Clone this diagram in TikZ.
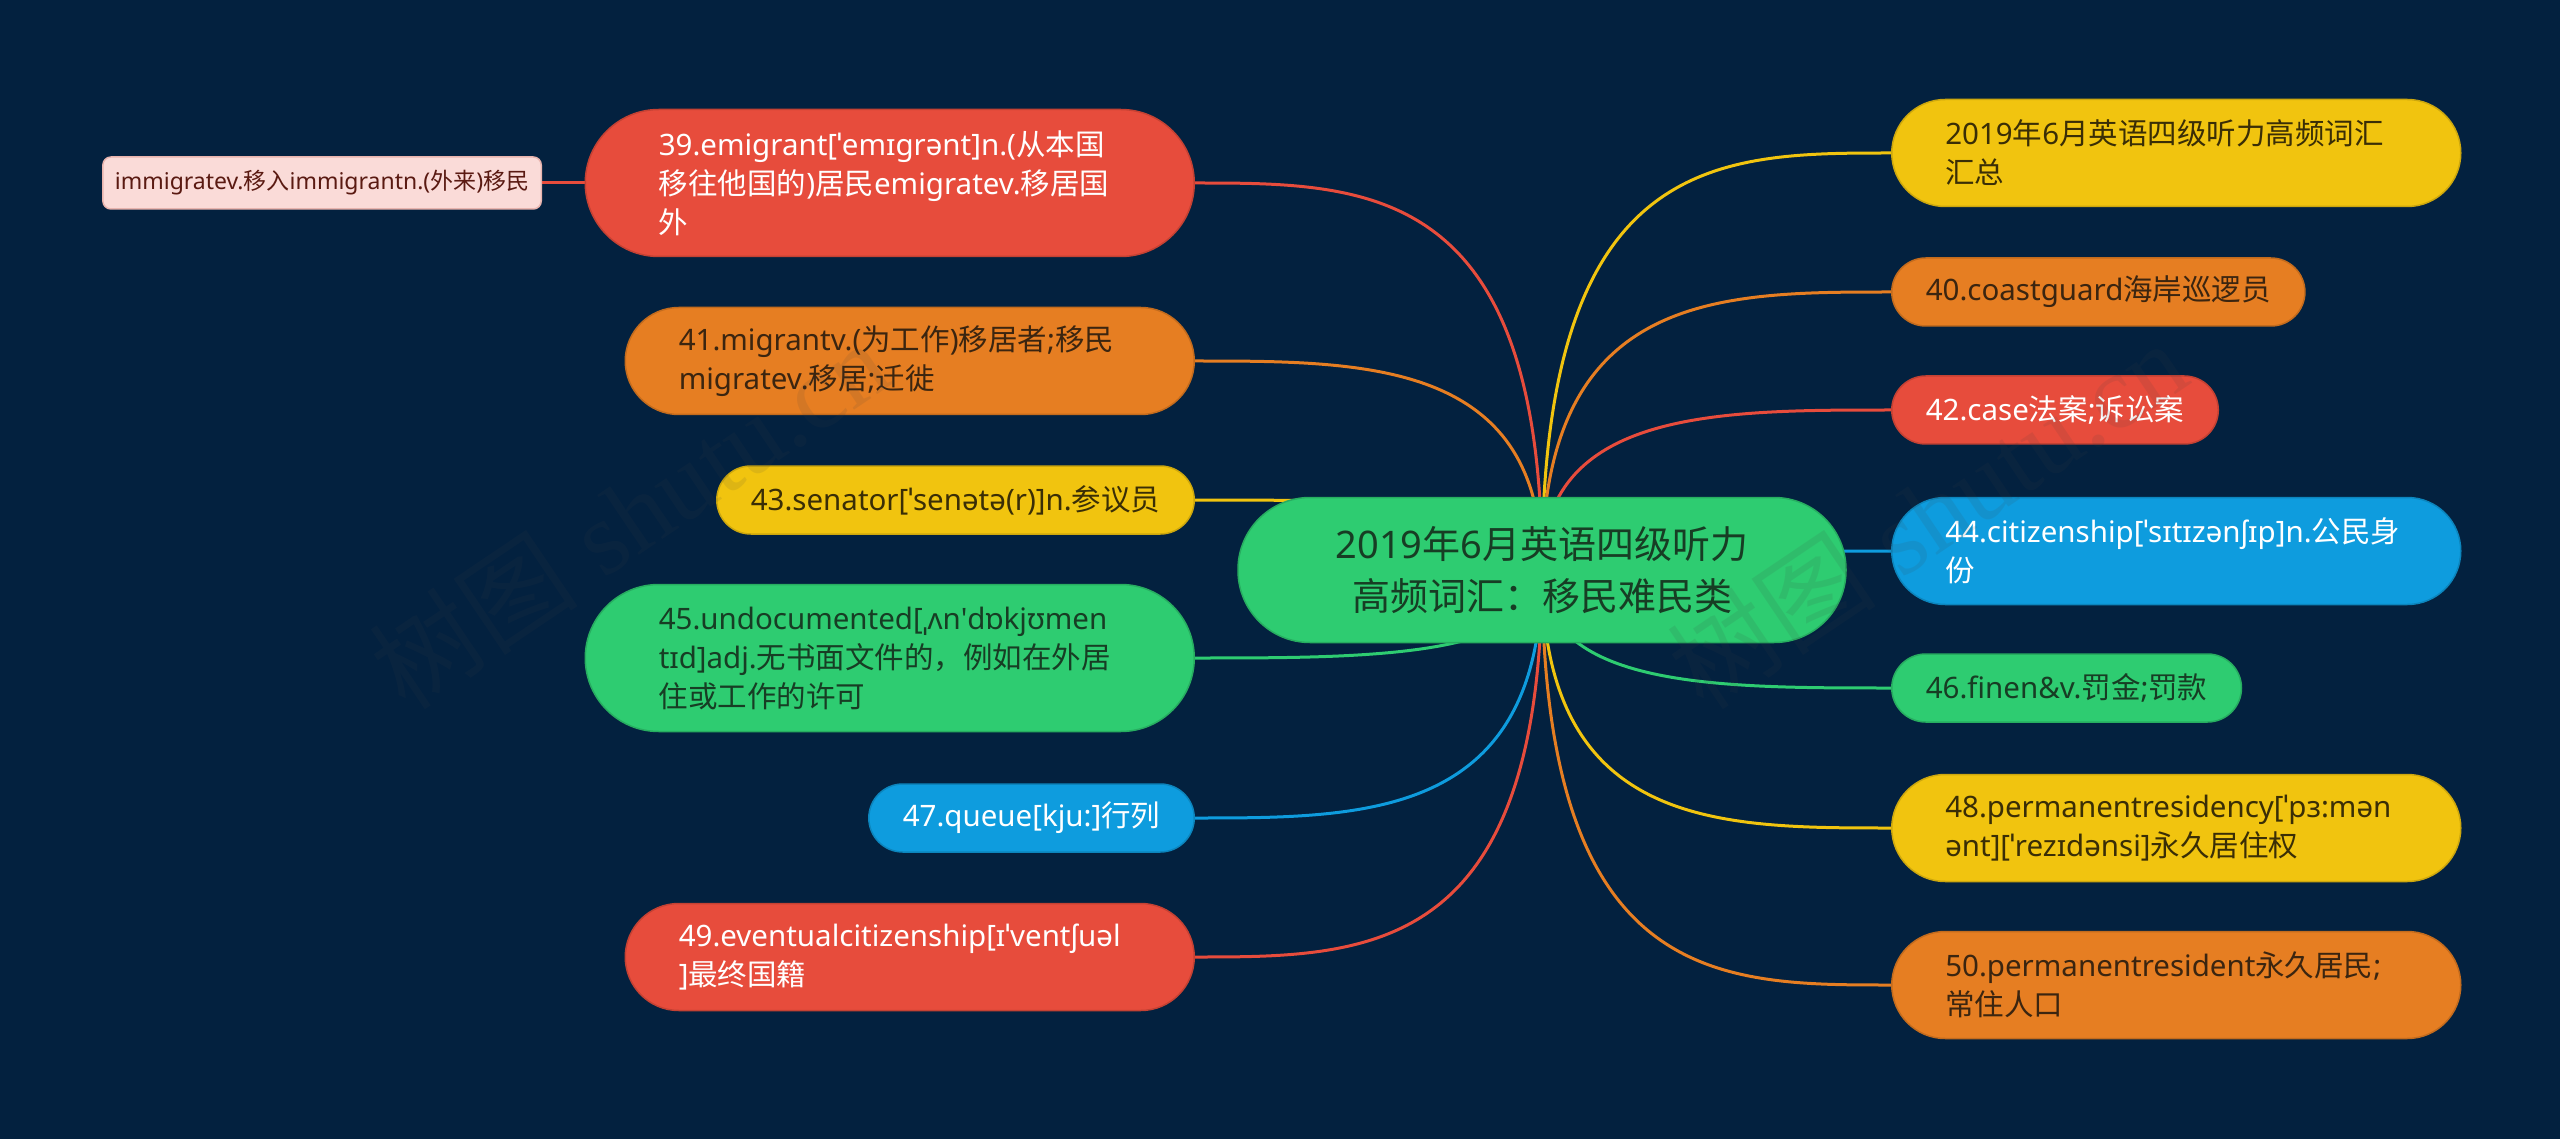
\documentclass[tikz,border=0pt]{standalone}
\usepackage{fontspec}
\setmainfont{Noto Sans}
\newfontfamily\cjk{Noto Sans CJK SC}
\newfontfamily\wmlat{Liberation Serif}
\usetikzlibrary{calc}
\hyphenpenalty=10000
\exhyphenpenalty=10000
\XeTeXinterchartokenstate=1
\newXeTeXintercharclass\CJKcls
\newcount\cjkcnt
\def\setcjkrange#1#2{\cjkcnt=#1 \loop\XeTeXcharclass\cjkcnt=\CJKcls\relax\ifnum\cjkcnt<#2 \advance\cjkcnt by 1 \repeat}
\setcjkrange{"4E00}{"9FFF}
\setcjkrange{"3000}{"303F}
\setcjkrange{"FF00}{"FFEF}
\XeTeXinterchartoks 0 \CJKcls = {\cjk}
\XeTeXinterchartoks 4095 \CJKcls = {\cjk}
\XeTeXinterchartoks \CJKcls 0 = {\rmfamily}
\XeTeXinterchartoks \CJKcls 4095 = {\rmfamily}
\definecolor{cbg}{HTML}{03213F}
\definecolor{cred}{HTML}{E74C3C}
\definecolor{cor}{HTML}{E67E22}
\definecolor{cyel}{HTML}{F1C40F}
\definecolor{cgr}{HTML}{2ECC71}
\definecolor{cblu}{HTML}{0E9CDE}
\definecolor{cytx}{HTML}{3A2E06}
\definecolor{cotx}{HTML}{3B2510}
\definecolor{cgtx}{HTML}{173D24}
\definecolor{cpink}{HTML}{FADBD8}
\definecolor{cpinkd}{HTML}{E8B4AE}
\definecolor{cimmtx}{HTML}{5A1A12}
\definecolor{wmc}{HTML}{404040}
\pgfdeclarelayer{bg}
\pgfsetlayers{bg,main}
\newcommand\mmlink[2]{\draw[conn,#2] (ctr.center) .. controls (ctr.center |- #1) and ($(ctr.center |- #1)!0.5!(#1)$) .. (#1);}
\begin{document}
\begin{tikzpicture}[x=1pt,y=-1pt,
  mmnode/.style={rectangle, align=left, line width=1.5pt, font=\fontsize{29.5}{39}\selectfont, inner ysep=0pt},
  one/.style={mmnode, minimum height=68pt, inner xsep=34pt, rounded corners=34pt},
  two/.style={mmnode, minimum height=107pt, inner xsep=53.5pt, rounded corners=53.5pt, text width=462pt},
  three/.style={mmnode, minimum height=147pt, inner xsep=73.5pt, rounded corners=73.5pt, text width=462pt},
  redn/.style={fill=cred, draw=cred!85!black, text=white},
  orn/.style={fill=cor, draw=cor!85!black, text=cotx},
  yeln/.style={fill=cyel, draw=cyel!85!black, text=cytx},
  grn/.style={fill=cgr, draw=cgr!85!black, text=cgtx},
  blun/.style={fill=cblu, draw=cblu!85!black, text=white},
  conn/.style={line width=3pt},
  wmark/.style={rotate=34, text=wmc, text opacity=0.11, font=\fontsize{105}{110}\selectfont}]
\useasboundingbox (0,0) rectangle (2560,1139);
% centre
\node[fill=cgr, draw=cgr!85!black, line width=1.5pt, text=cgtx, align=center, text width=464pt, inner xsep=72pt, inner ysep=0pt, minimum height=145pt, rounded corners=72pt, font=\fontsize{38}{52}\selectfont] (ctr) at (1542,570) {2019年6月英语四级听力\\高频词汇：移民难民类};
% left
\node[three, redn, anchor=east] (n39) at (1195,183) {39.emigrant[ˈemɪgrənt]n.(从本国\\移往他国的)居民emigratev.移居国\\外};
\node[fill=cpink, draw=cpinkd, line width=1.5pt, text=cimmtx, rounded corners=8pt, minimum height=52pt, inner xsep=12pt, inner ysep=0pt, font=\fontsize{23}{30}\selectfont, anchor=east] (imm) at (542,183) {immigratev.移入immigrantn.(外来)移民};
\node[two, orn, anchor=east] (n41) at (1195,361) {41.migrantv.(为工作)移居者;移民\\migratev.移居;迁徙};
\node[one, yeln, anchor=east] (n43) at (1195,500) {43.senator[ˈsenətə(r)]n.参议员};
\node[three, grn, anchor=east] (n45) at (1195,658) {45.undocumented[ˌʌn\textquotesingle dɒkjʊmen\\tɪd]adj.无书面文件的，例如在外居\\住或工作的许可};
\node[one, blun, anchor=east] (n47) at (1195,818) {47.queue[kju:]行列};
\node[two, redn, anchor=east] (n49) at (1195,957) {49.eventualcitizenship[ɪˈventʃuəl\\]最终国籍};
% right
\node[two, yeln, anchor=west] (r19) at (1891,153) {2019年6月英语四级听力高频词汇\\汇总};
\node[one, orn, anchor=west] (n40) at (1891,292) {40.coastguard海岸巡逻员};
\node[one, redn, anchor=west] (n42) at (1891,410) {42.case法案;诉讼案};
\node[two, blun, anchor=west] (n44) at (1891,551) {44.citizenship[ˈsɪtɪzənʃɪp]n.公民身\\份};
\node[one, grn, anchor=west] (n46) at (1891,688) {46.finen\&v.罚金;罚款};
\node[two, yeln, anchor=west] (n48) at (1891,828) {48.permanentresidency[ˈpɜ:mən\\ənt][ˈrezɪdənsi]永久居住权};
\node[two, orn, anchor=west] (n50) at (1891,985) {50.permanentresident永久居民;\\常住人口};
% connectors
\begin{pgfonlayer}{bg}
\fill[cbg] (0,0) rectangle (2560,1139);
\mmlink{n39.east}{cred}
\mmlink{n41.east}{cor}
\mmlink{n43.east}{cyel}
\mmlink{n45.east}{cgr}
\mmlink{n47.east}{cblu}
\mmlink{n49.east}{cred}
\mmlink{r19.west}{cyel}
\mmlink{n40.west}{cor}
\mmlink{n42.west}{cred}
\mmlink{n44.west}{cblu}
\mmlink{n46.west}{cgr}
\mmlink{n48.west}{cyel}
\mmlink{n50.west}{cor}
\draw[conn,cred] (n39.west) -- (imm.east);
\end{pgfonlayer}
% watermarks
\node[wmark] (wm1) at (629,514) {树图 {\wmlat shutu.cn}};
\node[wmark] (wm2) at (1927,514) {树图 {\wmlat shutu.cn}};
\end{tikzpicture}
\end{document}
